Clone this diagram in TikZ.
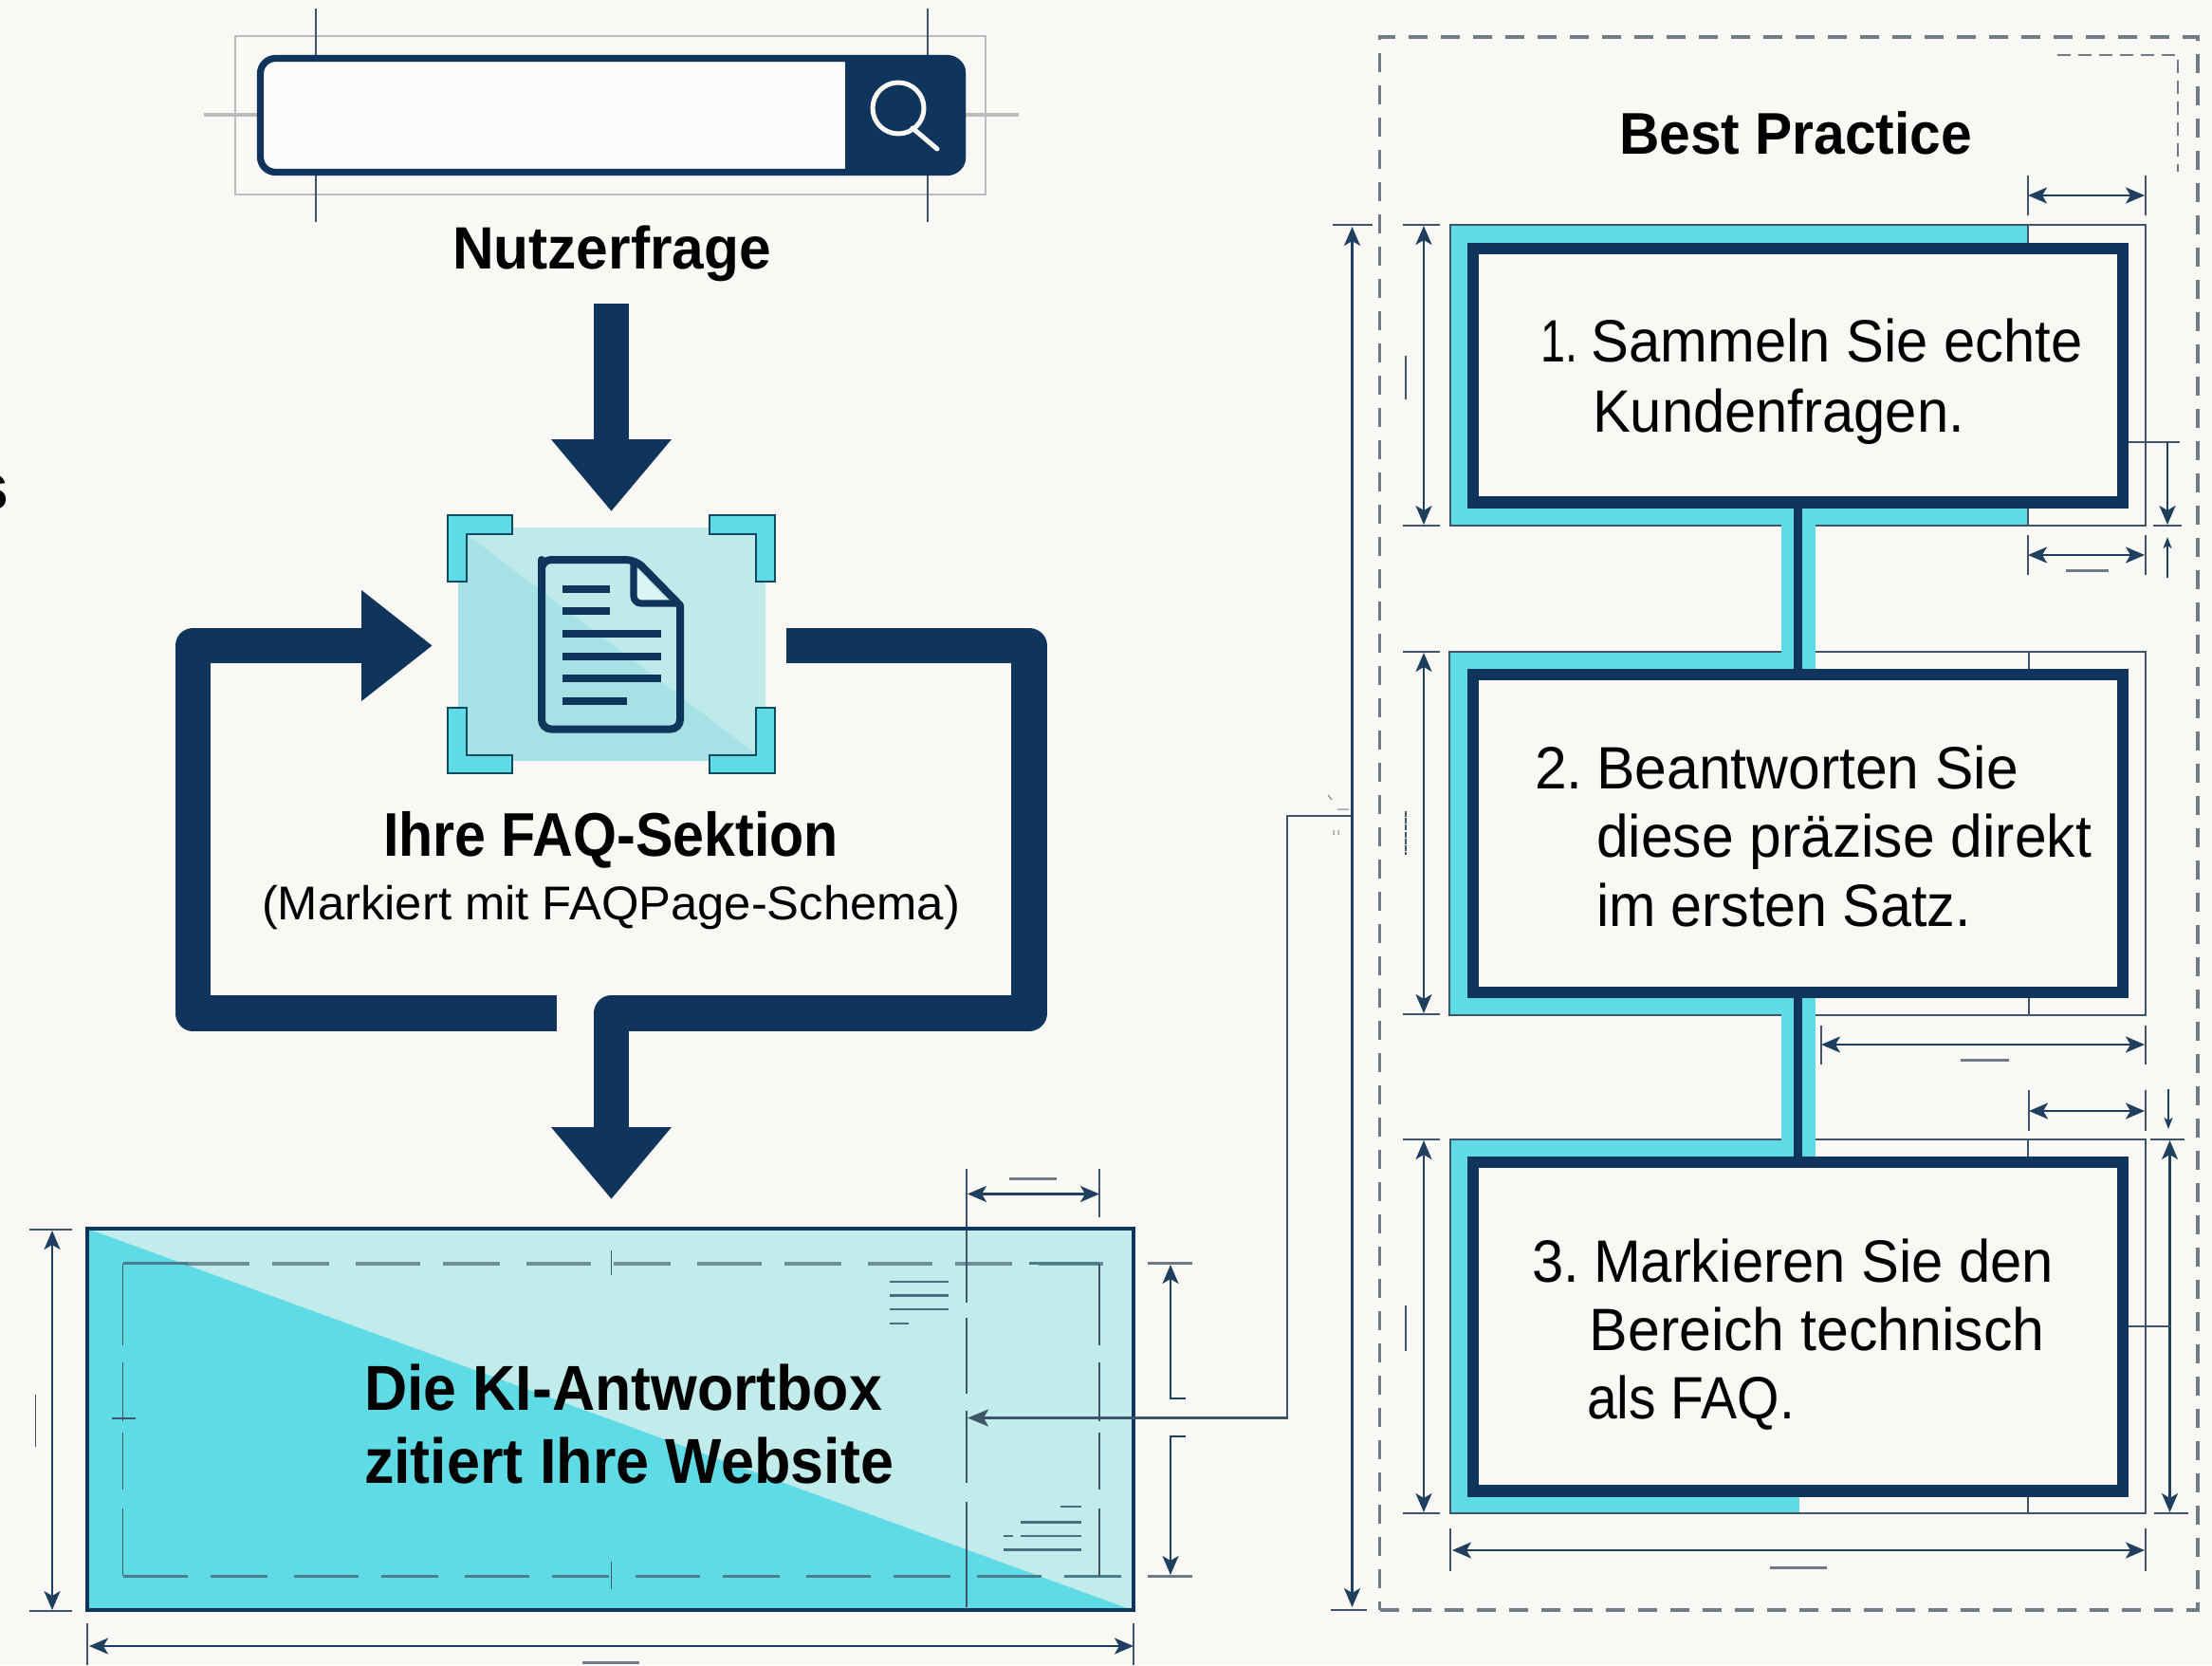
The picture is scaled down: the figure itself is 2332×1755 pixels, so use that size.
\documentclass[tikz,border=0pt]{standalone}
\usepackage{fontspec}
\setmainfont{Liberation Sans}
\usetikzlibrary{arrows.meta,calc}
\definecolor{bgc}{HTML}{F9F8F4}
\definecolor{navy}{HTML}{10355C}
\definecolor{cyanc}{HTML}{5FDBE5}
\definecolor{palec}{HTML}{C2ECEC}
\definecolor{squarea}{HTML}{A6E2E5}
\definecolor{squareb}{HTML}{C0EAEA}
\definecolor{dimc}{HTML}{1F3F5F}
\definecolor{framec}{HTML}{3F5568}
\definecolor{grayc}{HTML}{6F7C85}
\definecolor{paleg}{HTML}{BABDBD}
\definecolor{brackc}{HTML}{0E4A60}
\newcommand{\tw}[3]{\resizebox{#1}{\height}{\fontsize{#2}{#2}\selectfont #3}}
\newcommand{\twb}[3]{\resizebox{#1}{\height}{\fontsize{#2}{#2}\selectfont\bfseries #3}}
\newcommand{\narrowone}[1]{\scalebox{.78}[1]{#1}}
\tikzset{
  lbl/.style={anchor=base west,inner sep=0pt,outer sep=0pt,text=black},
  bigarrow/.style={draw=navy,line width=18.75pt,line join=round,-{Triangle[length=38pt,width=61pt]}},
  bigline/.style={draw=navy,line width=18.75pt,line join=round},
  dimarrow/.style={draw=dimc,line width=1.2pt,{Stealth[length=10pt,width=8.5pt,inset=2.5pt]}-{Stealth[length=10pt,width=8.5pt,inset=2.5pt]}},
  dimdown/.style={draw=dimc,line width=1.2pt,-{Stealth[length=10pt,width=8.5pt,inset=2.5pt]}},
  extline/.style={draw=framec,line width=.9pt},
  tickbar/.style={draw=grayc,line width=1.5pt},
  stepbox/.style={draw=navy,fill=bgc,line width=6.25pt,minimum width=342.5pt,inner sep=0pt},
  frameline/.style={draw=framec,line width=1pt},
  bracket/.style={fill=cyanc,draw=brackc,line width=1.4pt},
  docline/.style={draw=navy,line width=4pt},
  smallmark/.style={draw=grayc,line width=.5pt},
  bandlink/.style={draw=cyanc,line width=18pt},
  corelink/.style={draw=navy,line width=4.5pt},
}
\begin{document}
\begin{tikzpicture}[x=0.5pt,y=-0.5pt]
\useasboundingbox (0,0) rectangle (2332,1755);
\fill[bgc] (0,0) rectangle (2332,1755);

% clipped fragment of a word at the left edge
\node[lbl] (frag) at (-29,537) {\fontsize{35pt}{35pt}\selectfont\bfseries s};

% search bar
\draw[paleg,line width=1.3pt] (248,38) rectangle (1039,205);
\draw[framec,line width=.7pt] (333,9) -- (333,234) (978,9) -- (978,234);
\draw[paleg,line width=1.8pt] (215,121) -- (275,121) (1014,121) -- (1074,121);
\node[draw=navy,fill=white!60!bgc,line width=3.6pt,rounded corners=8pt,minimum width=370pt,minimum height=60pt,inner sep=0pt] (searchbar) at (644.5,121.5) {};
\fill[navy] (891,60) [rounded corners=8pt] -- (1018,60) -- (1018,183) [sharp corners] -- (891,183) -- cycle;
\draw[bgc,line width=2.5pt] (947,114) circle[radius=13.5pt];
\draw[bgc,line width=2.5pt,line cap=round] (962,135) -- (988,157);
\node[lbl] (nutzer) at (477,284) {\twb{168pt}{31.5pt}{Nutzerfrage}};

% FAQ icon
\fill[squarea] (483,556) rectangle (807,802);
\fill[squareb] (483,556) -- (807,556) -- (807,802) -- cycle;
\node[minimum width=162pt,minimum height=123pt,inner sep=0pt] (faqsquare) at (645,679) {};
\draw[bracket] (472,543) -- (540,543) -- (540,563) -- (492,563) -- (492,613) -- (472,613) -- cycle;
\draw[bracket] (817,543) -- (748,543) -- (748,563) -- (797,563) -- (797,613) -- (817,613) -- cycle;
\draw[bracket] (472,815) -- (540,815) -- (540,796) -- (492,796) -- (492,746) -- (472,746) -- cycle;
\draw[bracket] (817,815) -- (748,815) -- (748,796) -- (797,796) -- (797,746) -- (817,746) -- cycle;
\fill[white!45!squareb] (672,600) -- (708,638) -- (672,638) -- cycle;
\draw[navy,line width=4pt,line join=round] (571,600) [rounded corners=5pt] -- (571,590) -- (670,590) [sharp corners] -- (717,638) [rounded corners=5pt] -- (717,768.5) -- (571,768.5) -- cycle;
\draw[navy,line width=3.6pt,rounded corners=4pt] (668,594) -- (668,636) -- (713,636);
\draw[docline] (593,621) -- (643,621) (593,644) -- (643,644) (593,668) -- (697,668) (593,691.6) -- (697,691.6) (593,715) -- (697,715) (593,738.5) -- (661,738.5);
\node[lbl] (faqtitle) at (404,902) {\twb{240pt}{32.5pt}{Ihre FAQ-Sektion}};
\node[lbl] (faqsub) at (276,969) {\tw{368pt}{25pt}{(Markiert mit FAQPage-Schema)}};

% thick arrows
\coordinate (a1s) at (644.5,319.5);
\coordinate (a1e) at (644.5,539);
\draw[bigarrow] (a1s) -- (a1e);
\coordinate (l0) at (587,1068);
\coordinate (l1) at (203.5,1068);
\coordinate (l2) at (203.5,680.5);
\coordinate (l3) at (456,680.5);
\draw[bigline,-{Triangle[length=37.5pt,width=56pt]}] (l0) -- (l1) -- (l2) -- (l3);
\coordinate (r0) at (829,680.5);
\coordinate (r1) at (1085,680.5);
\coordinate (r2) at (1085,1068);
\coordinate (r3) at (644.5,1068);
\coordinate (r4) at (644.5,1264);
\draw[bigarrow] (r0) -- (r1) -- (r2) -- (r3) -- (r4);

% KI answer box
\fill[palec] (92,1295) rectangle (1195,1697.5);
\fill[cyanc] (92,1295) -- (1195,1697.5) -- (92,1697.5) -- cycle;
\draw[draw=grayc!80!cyanc,line width=2pt,dash pattern=on 34pt off 12pt on 30pt off 14pt] (195,1331.5) -- (1186,1331.5);
\draw[draw=framec!70!cyanc,line width=1.8pt] (129.5,1331.5) -- (198,1331.5) (1085,1331.5) -- (1159,1331.5);
\draw[draw=framec!70!cyanc,line width=1.5pt,dash pattern=on 34pt off 12pt on 30pt off 14pt] (129.5,1661) -- (1186,1661);
\draw[framec,line width=.9pt,dash pattern=on 43pt off 9pt on 31pt off 6pt on 30pt off 10pt on 40pt off 0pt] (129.5,1331.5) -- (129.5,1661);
\draw[framec,line width=.9pt,dash pattern=on 43pt off 9pt on 31pt off 6pt on 30pt off 10pt on 40pt off 0pt] (1159,1331.5) -- (1159,1661);
\draw[framec,line width=.9pt,dash pattern=on 45pt off 8pt on 40pt off 9pt on 38pt off 10pt on 30pt off 0pt] (1019,1283) -- (1019,1694);
\draw[framec,line width=.8pt] (644.5,1318) -- (644.5,1344) (644.5,1646) -- (644.5,1675) (118,1495) -- (143,1495);
\draw[framec!80!cyanc,line width=1.2pt] (938,1351) -- (1000,1351) (938,1365.6) -- (1000,1365.6) (938,1380) -- (1000,1380) (938,1395) -- (958,1395);
\draw[framec!80!cyanc,line width=1.2pt] (1118,1588) -- (1140,1588) (1076,1604.6) -- (1140,1604.6) (1076,1619) -- (1140,1619) (1058,1619) -- (1068,1619) (1058,1633.6) -- (1140,1633.6);
\node[draw=navy,line width=2.2pt,minimum width=551.5pt,minimum height=201pt,inner sep=0pt] (antwort) at (643.5,1496.25) {};
\node[lbl] (ki1) at (384,1486) {\twb{273pt}{33.5pt}{Die KI-Antwortbox}};
\node[lbl] (ki2) at (384,1563) {\twb{279pt}{33.5pt}{zitiert Ihre Website}};

% KI box dimensions
\draw[dimarrow] (55,1297) -- (55,1697);
\draw[extline] (31,1296) -- (76,1296) (31,1698) -- (76,1698);
\draw[extline] (37.5,1470) -- (37.5,1525);
\draw[dimarrow] (94,1735) -- (1195,1735);
\draw[extline] (92,1711) -- (92,1755) (1195,1711) -- (1195,1755);
\draw[tickbar] (614,1752) -- (674,1752);
\draw[dimarrow] (1020,1258.5) -- (1159,1258.5);
\draw[extline] (1019,1232) -- (1019,1283) (1159,1232) -- (1159,1283);
\draw[tickbar] (1064,1242) -- (1114,1242);
\draw[tickbar] (1210,1331.5) -- (1257,1331.5) (1210,1661) -- (1257,1661);
\draw[dimc,line width=1.2pt,{Stealth[length=10pt,width=8.5pt,inset=2.5pt]}-] (1234,1333) -- (1234,1474) -- (1250,1474);
\draw[dimc,line width=1.2pt,-{Stealth[length=10pt,width=8.5pt,inset=2.5pt]}] (1250,1514) -- (1234,1514) -- (1234,1660);

% group box
\node[draw=grayc,line width=1.8pt,dash pattern=on 10pt off 7pt,minimum width=431.2pt,minimum height=829pt,inner sep=0pt] (group) at (1885.8,868) {};
\draw[grayc,line width=.8pt,dash pattern=on 7pt off 4pt] (2169,58) -- (2296,58) -- (2296,181);
\node[lbl] (best) at (1707,163) {\twb{186pt}{31pt}{Best Practice}};

% frames behind the steps
\fill[cyanc] (1529,237) rectangle (2138,554);
\draw[frameline] (1529,237) rectangle (2262,554);
\draw[frameline] (2138,237) -- (2138,256) (2138,535) -- (2138,554);
\fill[cyanc] (1528,687) rectangle (1880,1069.6);
\draw[frameline] (1528,687) rectangle (2262,1069.6);
\draw[frameline] (2139,687) -- (2139,706) (2139,1052) -- (2139,1069.6);
\fill[cyanc] (1529,1201) rectangle (1897,1595);
\draw[frameline] (1529,1201) rectangle (2262,1595);
\draw[frameline] (2138,1201) -- (2138,1220) (2138,1576) -- (2138,1595);

% steps
\draw[bandlink] (1895.5,529) -- (1895.5,711);
\draw[bandlink] (1895.5,1046) -- (1895.5,1225);
\node[stepbox,minimum height=133.75pt] (step1) at (1895.5,395.75) {};
\node[stepbox,minimum height=167.5pt] (step2) at (1895.5,878.5) {};
\node[stepbox,minimum height=173.25pt] (step3) at (1895.5,1398.25) {};
\draw[corelink] (step1.south) -- (step2.north);
\draw[corelink] (step2.south) -- (step3.north);

\node[lbl] (t11) at (1624.6,381) {\tw{285.5pt}{31.5pt}{\makebox[28pt][l]{\narrowone{1.}}Sammeln Sie echte}};
\node[lbl] (t12) at (1679,455) {\tw{196pt}{31.5pt}{Kundenfragen.}};
\node[lbl] (t21) at (1618,831) {\tw{255pt}{31.5pt}{\makebox[34pt][l]{2.}Beantworten Sie}};
\node[lbl] (t22) at (1683,903) {\tw{261pt}{31.5pt}{diese präzise direkt}};
\node[lbl] (t23) at (1683,976) {\tw{197.5pt}{31.5pt}{im ersten Satz.}};
\node[lbl] (t31) at (1615.5,1351) {\tw{274.75pt}{31.5pt}{\makebox[34pt][l]{3.}Markieren Sie den}};
\node[lbl] (t32) at (1675.6,1423) {\tw{240pt}{31.5pt}{Bereich technisch}};
\node[lbl] (t33) at (1673,1495.5) {\tw{109.5pt}{31.5pt}{als FAQ.}};

% connector from the group to the answer box
\coordinate (linkstart) at (1425,860);
\coordinate (linkbend) at (1357,860);
\coordinate (linkend) at (1020,1494.5);
\draw[draw=framec,line width=1.2pt,-{Stealth[length=11pt,width=9pt,inset=2.5pt]}] (linkstart) -- (linkbend) |- (linkend);
\draw[smallmark] (1400,838) -- (1404,843) (1410,853) -- (1422,853) (1406,875) -- (1406,880) (1411,875) -- (1411,880);

% step dimensions, left side
\draw[dimarrow] (1425.5,239) -- (1425.5,1694);
\draw[extline] (1405,237) -- (1447,237) (1403,1697) -- (1441,1697);
\draw[dimarrow] (1501,238) -- (1501,553);
\draw[extline] (1479,237) -- (1518,237) (1479,554) -- (1518,554);
\draw[extline] (1482,375) -- (1482,421);
\draw[dimarrow] (1501,688) -- (1501,1068);
\draw[extline] (1479,687) -- (1518,687) (1479,1069) -- (1518,1069);
\draw[extline,dash pattern=on 3pt off .6pt] (1482,855) -- (1482,901);
\draw[dimarrow] (1501,1202) -- (1501,1594);
\draw[extline] (1479,1201) -- (1518,1201) (1479,1595) -- (1518,1595);
\draw[extline] (1482,1376) -- (1482,1424);

% step dimensions, right and around
\draw[dimarrow] (2138,206) -- (2261,206);
\draw[extline] (2138,185) -- (2138,227) (2262,185) -- (2262,227);
\draw[dimarrow] (2138,585) -- (2261,585);
\draw[extline] (2138,564) -- (2138,606) (2262,564) -- (2262,606);
\draw[tickbar] (2178,601) -- (2223,601);
\draw[extline] (2244,466) -- (2298,466);
\draw[dimdown] (2285,466) -- (2285,553);
\draw[extline] (2270,554) -- (2300,554);
\draw[dimc,line width=.9pt,{Stealth[length=6pt,width=4.5pt,inset=1.5pt]}-] (2285,566) -- (2285,609);
\draw[dimarrow] (1920,1101) -- (2261,1101);
\draw[extline] (1920,1081) -- (1920,1122) (2262,1081) -- (2262,1122);
\draw[tickbar] (2067,1117) -- (2118,1117);
\draw[dimarrow] (2139,1171) -- (2261,1171);
\draw[extline] (2139,1149) -- (2139,1192) (2262,1149) -- (2262,1192);
\draw[dimc,line width=.9pt,-{Stealth[length=6pt,width=4.5pt,inset=1.5pt]}] (2286,1148) -- (2286,1190);
\draw[extline] (2267,1201) -- (2303,1201) (2271,1595) -- (2307,1595);
\draw[dimarrow] (2287.5,1202) -- (2287.5,1594);
\draw[extline] (2244,1398) -- (2287.5,1398);
\draw[dimarrow] (1531,1634) -- (2261,1634);
\draw[extline] (1529,1611) -- (1529,1656) (2262,1611) -- (2262,1656);
\draw[tickbar] (1866,1652) -- (1926,1652);
\end{tikzpicture}
\end{document}
